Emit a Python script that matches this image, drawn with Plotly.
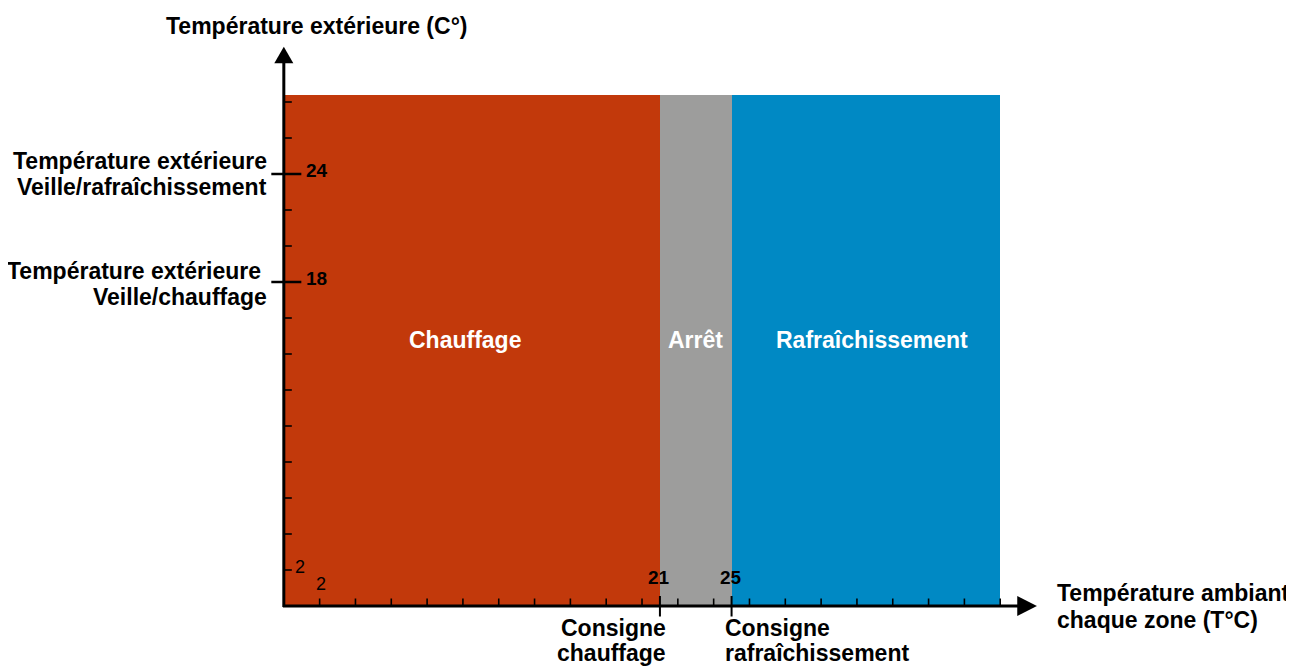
import plotly.graph_objects as go

# ---------------- data ----------------
zone_names = ["Chauffage", "Arrêt", "Rafraîchissement"]
zone_start = [0, 21, 25]
zone_end = [21, 25, 40]
zone_top = [28.4, 28.4, 28.4]
zone_colors = ["#C2390B", "#9D9D9C", "#0089C4"]
label_x = [10.1, 23.0, 32.85]
label_y = [14.8, 14.8, 14.8]

y_minor_ticks = [2, 4, 6, 8, 10, 12, 14, 16, 20, 22, 26, 28]
x_minor_ticks = [2, 4, 6, 8, 10, 12, 14, 16, 18, 20, 22, 24, 26, 28, 30, 32, 34, 36, 38, 40]
y_major_ticks = [24, 18]
y_major_tick_labels = ["24", "18"]
y_major_lines = [["Température extérieure", "Veille/rafraîchissement"],
                 ["Température extérieure ", "Veille/chauffage"]]
x_major_ticks = [21, 25]
x_major_tick_labels = ["21", "25"]
x_major_lines = [["Consigne", "chauffage"], ["Consigne", "rafraîchissement"]]
y_small_label = ["2"]
y_small_value = [2]
x_small_label = ["2"]
x_small_value = [2]

y_title = "Température extérieure (C°)"
x_title_lines = ["Température ambiante de", "chaque zone (T°C)"]

# ---------------- geometry ----------------
W, H = 1294, 666
PAGE = 8  # default body margin of the page
X_PX0, X_SCALE = 284 - PAGE, 17.9
Y_PX0, Y_SCALE = 606 - PAGE, 18.0
x_range = [-2, 42.5]
y_range = [-2, 31.5]
m_l = X_PX0 + x_range[0] * X_SCALE
m_r = W - (X_PX0 + x_range[1] * X_SCALE)
m_t = Y_PX0 - y_range[1] * Y_SCALE
m_b = H - (Y_PX0 - y_range[0] * Y_SCALE)

FONT = "Liberation Sans, Arial, sans-serif"
BLACK = "#000000"
BIG = 23

# vertical offsets (px, downward positive) of each text line from its tick
y_label_line_offsets = [[-13.5, 12.5], [-11.5, 15.0]]
x_label_line_offsets = [22, 47]
x_title_line_offsets = [-13, 14]

centers = [(a + b) / 2 for a, b in zip(zone_start, zone_end)]
widths = [b - a for a, b in zip(zone_start, zone_end)]

fig = go.Figure()
fig.add_trace(go.Bar(
    x=centers, y=zone_top, width=widths,
    marker=dict(color=zone_colors, line=dict(width=0)),
    hoverinfo="skip", showlegend=False,
))

shapes = []
y_axis_top = 30.3
x_axis_end = 41.0
shapes.append(dict(type="line", xref="x", yref="y", x0=0, x1=0, y0=-0.05, y1=y_axis_top,
                   line=dict(color=BLACK, width=3)))
shapes.append(dict(type="line", xref="x", yref="y", x0=-0.05, x1=x_axis_end, y0=0, y1=0,
                   line=dict(color=BLACK, width=3)))
ytip, ybase, yhw = 31.07, 30.15, 9.5 / X_SCALE
shapes.append(dict(type="path", xref="x", yref="y",
                   path=f"M {-yhw} {ybase} L {yhw} {ybase} L 0 {ytip} Z",
                   fillcolor=BLACK, line=dict(color=BLACK, width=0)))
xtip, xbase, xhh = 42.05, 40.95, 10.0 / Y_SCALE
shapes.append(dict(type="path", xref="x", yref="y",
                   path=f"M {xbase} {-xhh} L {xbase} {xhh} L {xtip} 0 Z",
                   fillcolor=BLACK, line=dict(color=BLACK, width=0)))
for v in y_minor_ticks:
    shapes.append(dict(type="line", xref="x", yref="y", x0=0, x1=8 / X_SCALE, y0=v, y1=v,
                       line=dict(color=BLACK, width=1.6)))
for v in x_minor_ticks:
    shapes.append(dict(type="line", xref="x", yref="y", x0=v, x1=v, y0=0, y1=7.5 / Y_SCALE,
                       line=dict(color=BLACK, width=1.6)))
for v in y_major_ticks:
    shapes.append(dict(type="line", xref="x", yref="y", x0=-12.5 / X_SCALE, x1=17.5 / X_SCALE,
                       y0=v, y1=v, line=dict(color=BLACK, width=2.5)))
for v in x_major_ticks:
    shapes.append(dict(type="line", xref="x", yref="y", x0=v, x1=v,
                       y0=-10.5 / Y_SCALE, y1=10 / Y_SCALE, line=dict(color=BLACK, width=2)))

ann = []
for name, lx, ly in zip(zone_names, label_x, label_y):
    ann.append(dict(x=lx, y=ly, xref="x", yref="y", text=f"<b>{name}</b>", showarrow=False,
                    xanchor="center", yanchor="middle",
                    font=dict(family=FONT, size=BIG, color="white")))
for v, lab, lines, offs in zip(y_major_ticks, y_major_tick_labels, y_major_lines,
                               y_label_line_offsets):
    ann.append(dict(x=0, y=v, xref="x", yref="y", text=f"<b>{lab}</b>", showarrow=False,
                    xanchor="left", yanchor="middle", xshift=20, yshift=4,
                    font=dict(family=FONT, size=19, color=BLACK)))
    for line, off in zip(lines, offs):
        ann.append(dict(x=0, y=v, xref="x", yref="y", text=f"<b>{line}</b>", showarrow=False,
                        xanchor="right", yanchor="middle", xshift=-15, yshift=-off,
                        font=dict(family=FONT, size=BIG, color=BLACK)))
for v, lab, lines, side in zip(x_major_ticks, x_major_tick_labels, x_major_lines,
                               ["right", "left"]):
    ann.append(dict(x=v, y=0, xref="x", yref="y", text=f"<b>{lab}</b>", showarrow=False,
                    xanchor="center", yanchor="middle", xshift=-1, yshift=29,
                    font=dict(family=FONT, size=19, color=BLACK)))
    for line, off in zip(lines, x_label_line_offsets):
        ann.append(dict(x=v, y=0, xref="x", yref="y", text=f"<b>{line}</b>", showarrow=False,
                        xanchor=side, yanchor="middle",
                        xshift=(8 if side == "right" else -9), yshift=-off,
                        font=dict(family=FONT, size=BIG, color=BLACK)))
for v, lab in zip(y_small_value, y_small_label):
    ann.append(dict(x=0, y=v, xref="x", yref="y", text=lab, showarrow=False,
                    xanchor="left", yanchor="middle", xshift=9, yshift=3,
                    font=dict(family=FONT, size=18, color=BLACK)))
for v, lab in zip(x_small_value, x_small_label):
    ann.append(dict(x=v, y=0, xref="x", yref="y", text=lab, showarrow=False,
                    xanchor="center", yanchor="middle", xshift=1.5, yshift=22,
                    font=dict(family=FONT, size=18, color=BLACK)))
# axis titles
top_px = Y_PX0 - y_range[1] * Y_SCALE
ann.append(dict(x=0, y=y_range[1], xref="x", yref="y", text=f"<b>{y_title}</b>", showarrow=False,
                xanchor="center", yanchor="middle", xshift=33,
                yshift=top_px - (26 - PAGE),
                font=dict(family=FONT, size=BIG, color=BLACK)))
xt_anchor = x_range[1] - 0.01
xt_shift = (1055 - PAGE) - (X_PX0 + xt_anchor * X_SCALE)
for line, off in zip(x_title_lines, x_title_line_offsets):
    ann.append(dict(x=xt_anchor, y=0, xref="x", yref="y", text=f"<b>{line}</b>",
                    showarrow=False, xanchor="left", yanchor="middle",
                    xshift=xt_shift, yshift=-off,
                    font=dict(family=FONT, size=BIG, color=BLACK)))

fig.update_layout(
    width=W, height=H, autosize=False,
    margin=dict(l=m_l, r=m_r, t=m_t, b=m_b, pad=0),
    paper_bgcolor="white", plot_bgcolor="white",
    xaxis=dict(range=x_range, visible=False, showgrid=False, zeroline=False, fixedrange=True),
    yaxis=dict(range=y_range, visible=False, showgrid=False, zeroline=False, fixedrange=True),
    shapes=shapes, annotations=ann, showlegend=False, bargap=0,
    font=dict(family=FONT),
)

fig.write_html("out.html")
